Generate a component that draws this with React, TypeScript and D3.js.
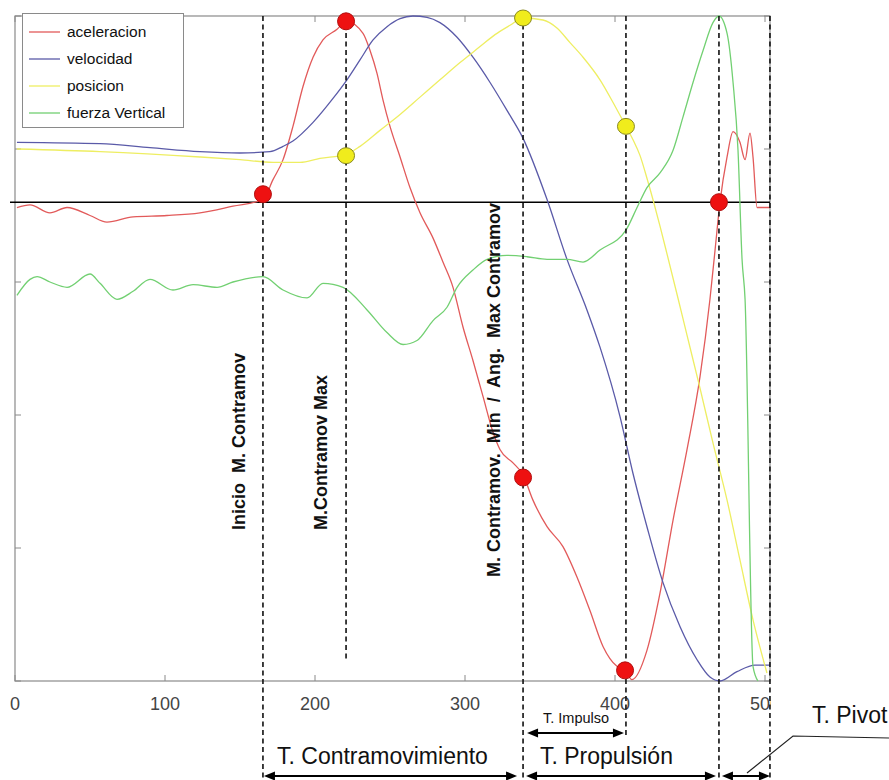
import React from 'react';
import * as d3 from 'd3';

// ---------- data (x = sample index, y = normalised amplitude) ----------
const X_MAX = 503.33;
const xTicks = [0, 100, 200, 300, 400, 500];
const xTickLabels = ['0', '100', '200', '300', '400', '500'];
const yTicks = [0, 1, 2, 3, 4, 5];
const ZERO_LEVEL = 3.6;

const seriesNames = ['aceleracion', 'velocidad', 'posicion', 'fuerza Vertical'];

const accX = [1.3, 10, 23.3, 34.7, 50, 61.3, 78.7, 101.3, 123.3, 145.3, 165.3, 172, 178.7, 185.3, 192, 198.7, 205.3, 214.7, 220.7, 232, 236.7, 241.3, 245.3, 250, 256.7, 263.3, 270, 278.7, 285.3, 292, 298.7, 305.3, 312, 318.7, 323.3, 332, 338.7, 345.3, 354.7, 365.3, 374.7, 383.3, 392, 401.3, 406.7, 411.3, 421.3, 430, 438.7, 448, 456.7, 463.3, 466.7, 470, 474.7, 478.7, 483.3, 486.7, 490, 492, 494.7, 503.3];
const accY = [3.56, 3.58, 3.52, 3.56, 3.5, 3.45, 3.49, 3.5, 3.52, 3.57, 3.62, 3.77, 3.92, 4.17, 4.47, 4.69, 4.82, 4.9, 4.96, 4.87, 4.74, 4.57, 4.37, 4.17, 3.94, 3.71, 3.52, 3.33, 3.15, 2.96, 2.66, 2.41, 2.14, 1.87, 1.74, 1.64, 1.55, 1.36, 1.16, 1.01, 0.78, 0.53, 0.26, 0.11, 0.08, 0.01, 0.23, 0.66, 1.21, 1.74, 2.29, 2.87, 3.24, 3.6, 3.94, 4.13, 4.05, 3.92, 4.12, 3.94, 3.56, 3.56];

const velX = [1.3, 56.7, 90, 123.3, 150, 170, 178.7, 185.3, 198.7, 212, 221.3, 230, 238.7, 248, 256.7, 265.3, 274.7, 283.3, 294.7, 305.3, 316.7, 328, 338.7, 354.7, 368, 381.3, 390, 403.3, 412, 421.3, 432, 443.3, 454.7, 463.3, 470, 481.3, 493.3, 503.3];
const velY = [4.05, 4.04, 4.01, 3.98, 3.97, 3.98, 4.02, 4.06, 4.2, 4.38, 4.52, 4.67, 4.82, 4.92, 4.98, 5.0, 4.99, 4.95, 4.84, 4.69, 4.5, 4.29, 4.08, 3.62, 3.17, 2.79, 2.51, 1.99, 1.56, 1.16, 0.74, 0.41, 0.16, 0.03, 0.0, 0.07, 0.12, 0.12];

const posX = [1.3, 56.7, 123.3, 150, 172, 190, 203.3, 220.7, 230, 243.3, 256.7, 270, 283.3, 296.7, 310, 320, 330, 338.7, 352, 361.3, 370, 378.7, 390, 398.7, 407.3, 412, 416.7, 421.3, 425.3, 430, 434.7, 441.3, 448, 456.7, 465.3, 474.7, 483.3, 492, 501.3];
const posY = [4.0, 3.98, 3.94, 3.92, 3.9, 3.9, 3.93, 3.96, 4.02, 4.14, 4.26, 4.39, 4.52, 4.65, 4.77, 4.86, 4.93, 4.985, 4.97, 4.91, 4.8, 4.69, 4.52, 4.35, 4.17, 4.07, 3.95, 3.78, 3.62, 3.42, 3.21, 2.91, 2.6, 2.2, 1.79, 1.36, 0.91, 0.46, 0.06];

const forceX = [1.3, 10, 14.7, 23.3, 34.7, 50, 56.7, 68, 78.7, 90, 105.3, 118.7, 134.7, 145.3, 165.3, 178.7, 194.7, 205.3, 218.7, 234.7, 248, 258.7, 268, 278.7, 288, 294.7, 305.3, 314.7, 328, 341.3, 354.7, 368, 378.7, 390, 407.3, 414.7, 421.3, 430, 438.7, 445.3, 452, 458.7, 465.3, 469.3, 474.7, 478.7, 482, 484.7, 486.7, 492, 495.3];
const forceY = [2.9, 3.02, 3.04, 3.0, 2.96, 3.06, 2.99, 2.87, 2.93, 3.02, 2.94, 2.98, 2.96, 3.0, 3.04, 2.94, 2.88, 2.99, 2.96, 2.79, 2.62, 2.53, 2.56, 2.71, 2.81, 2.96, 3.09, 3.17, 3.2, 3.19, 3.17, 3.17, 3.15, 3.24, 3.39, 3.56, 3.71, 3.82, 3.99, 4.24, 4.5, 4.74, 4.95, 5.0, 4.87, 4.5, 3.99, 3.17, 2.87, 0.11, 0.0];

const accMarkX = [165.3, 220.7, 338.7, 406.7, 469.3];
const accMarkY = [3.66, 4.96, 1.53, 0.08, 3.6];
const posMarkX = [220.7, 338.7, 407.3];
const posMarkY = [3.95, 4.985, 4.17];

const eventX = [165.3, 220.7, 338.7, 407.3, 469.3, 503.3];
const eventLabels = ['Inicio  M. Contramov', 'M.Contramov Max', 'M. Contramov.  Min  /  Ang.  Max Contramov'];
const phaseLabels = ['T. Contramovimiento', 'T. Propulsión', 'T. Pivot', 'T. Impulso'];

// ---------- layout ----------
const W = 889;
const H = 780;
const L = 15, R = 770, T = 16, B = 681;
const FONT = "'Liberation Sans', Arial, Helvetica, sans-serif";

const colors = ['#e25a5a', '#5a5aa8', '#eeee62', '#72d072'];

function Arrow({ x1, x2, y }: { x1: number; x2: number; y: number }) {
  const hl = 11, hw = 4.5;
  return (
    <g>
      <line x1={x1 + 4} x2={x2 - 4} y1={y} y2={y} stroke="#000" strokeWidth={2} />
      <polygon points={`${x1},${y} ${x1 + hl},${y - hw} ${x1 + hl},${y + hw}`} fill="#000" />
      <polygon points={`${x2},${y} ${x2 - hl},${y - hw} ${x2 - hl},${y + hw}`} fill="#000" />
    </g>
  );
}

export default function App() {
  const x = d3.scaleLinear().domain([0, X_MAX]).range([L, R]);
  const y = d3.scaleLinear().domain([0, 5]).range([B, T]);
  const line = d3
    .line<[number, number]>()
    .x((d) => x(d[0]))
    .y((d) => y(d[1]))
    .curve(d3.curveMonotoneX);

  const zip = (a: number[], b: number[]) => a.map((v, i) => [v, b[i]] as [number, number]);
  const series = [zip(accX, accY), zip(velX, velY), zip(posX, posY), zip(forceX, forceY)];

  const evBottoms = [780, 662, 780, 735, 780, 780];
  const ex = eventX.map((v) => x(v));

  return (
    <svg width={W} height={H} style={{ position: 'absolute', left: 0, top: 0, background: '#fff' }} fontFamily={FONT}>
      <defs>
        <clipPath id="tickclip">
          <rect x={0} y={0} width={R + 1} height={H} />
        </clipPath>
        <clipPath id="plotclip">
          <rect x={L} y={T - 2} width={R - L} height={B - T + 4} />
        </clipPath>
      </defs>
      <rect width={W} height={H} fill="#fff" />

      {/* frame */}
      <rect x={L} y={T} width={R - L} height={B - T} fill="none" stroke="#8a8a8a" strokeWidth={1.2} />

      {/* ticks */}
      {xTicks.map((t) => (
        <g key={'xt' + t}>
          <line x1={x(t)} x2={x(t)} y1={B} y2={B - 6} stroke="#8a8a8a" />
          <line x1={x(t)} x2={x(t)} y1={T} y2={T + 6} stroke="#8a8a8a" />
        </g>
      ))}
      {yTicks.map((t) => (
        <g key={'yt' + t}>
          <line x1={L} x2={L + 6} y1={y(t)} y2={y(t)} stroke="#8a8a8a" />
          <line x1={R} x2={R - 6} y1={y(t)} y2={y(t)} stroke="#8a8a8a" />
        </g>
      ))}
      <g clipPath="url(#tickclip)">
        {xTicks.map((t, i) => (
          <text key={'xl' + t} x={x(t)} y={710} fontSize={18} fill="#444" textAnchor="middle">
            {xTickLabels[i]}
          </text>
        ))}
      </g>

      {/* zero line */}
      <line x1={10} x2={R} y1={y(ZERO_LEVEL)} y2={y(ZERO_LEVEL)} stroke="#000" strokeWidth={1.5} />

      {/* curves */}
      <g clipPath="url(#plotclip)">
        {series.map((s, i) => (
          <path key={'s' + i} d={line(s) || ''} fill="none" stroke={colors[i]} strokeWidth={1.3} />
        ))}
      </g>

      {/* event lines */}
      {ex.map((px, i) => (
        <line key={'ev' + i} x1={px} x2={px} y1={T} y2={evBottoms[i]} stroke="#111" strokeWidth={1.6} strokeDasharray="5,3.5" />
      ))}

      {/* markers */}
      {accMarkX.map((v, i) => (
        <circle key={'am' + i} cx={x(v)} cy={y(accMarkY[i])} r={8.5} fill="#ee1111" stroke="#b01010" strokeWidth={1} />
      ))}
      {posMarkX.map((v, i) => (
        <ellipse key={'pm' + i} cx={x(v)} cy={y(posMarkY[i])} rx={8.5} ry={8} fill="#f0ec1c" stroke="#8a8a20" strokeWidth={1} />
      ))}

      {/* legend */}
      <rect x={22.5} y={13.5} width={161} height={114} fill="#fff" stroke="#8a8a8a" strokeWidth={1} />
      {seriesNames.map((n, i) => {
        const cy = 32 + i * 27;
        return (
          <g key={'lg' + i}>
            <line x1={29} x2={60} y1={cy} y2={cy} stroke={colors[i]} strokeWidth={1.3} />
            <text x={67} y={cy + 5} fontSize={15.5} fill="#111">
              {n}
            </text>
          </g>
        );
      })}

      {/* rotated event labels */}
      {[
        [245, 530],
        [327, 530],
        [500, 577],
      ].map(([bx, by], i) => (
        <text
          key={'el' + i}
          transform={`translate(${bx},${by}) rotate(-90)`}
          fontSize={18}
          fontWeight="bold"
          fill="#111"
          style={{ whiteSpace: 'pre' }}
        >
          {eventLabels[i]}
        </text>
      ))}

      {/* phase arrows */}
      <Arrow x1={ex[0] + 1} x2={ex[2] - 6} y={776} />
      <Arrow x1={ex[2] + 3} x2={ex[4] - 3} y={776} />
      <Arrow x1={ex[4] + 3} x2={ex[5]} y={776} />
      <Arrow x1={ex[2] + 4} x2={ex[3] - 2} y={733} />

      <text x={277} y={764} fontSize={23} fill="#111">{phaseLabels[0]}</text>
      <text x={540} y={764} fontSize={23} fill="#111">{phaseLabels[1]}</text>
      <text x={812} y={723} fontSize={23} fill="#111">{phaseLabels[2]}</text>
      <text x={543} y={723} fontSize={14.5} fill="#111">{phaseLabels[3]}</text>

      <polyline points="747,773 793,736 889,738" fill="none" stroke="#222" strokeWidth={1.2} />
    </svg>
  );
}
